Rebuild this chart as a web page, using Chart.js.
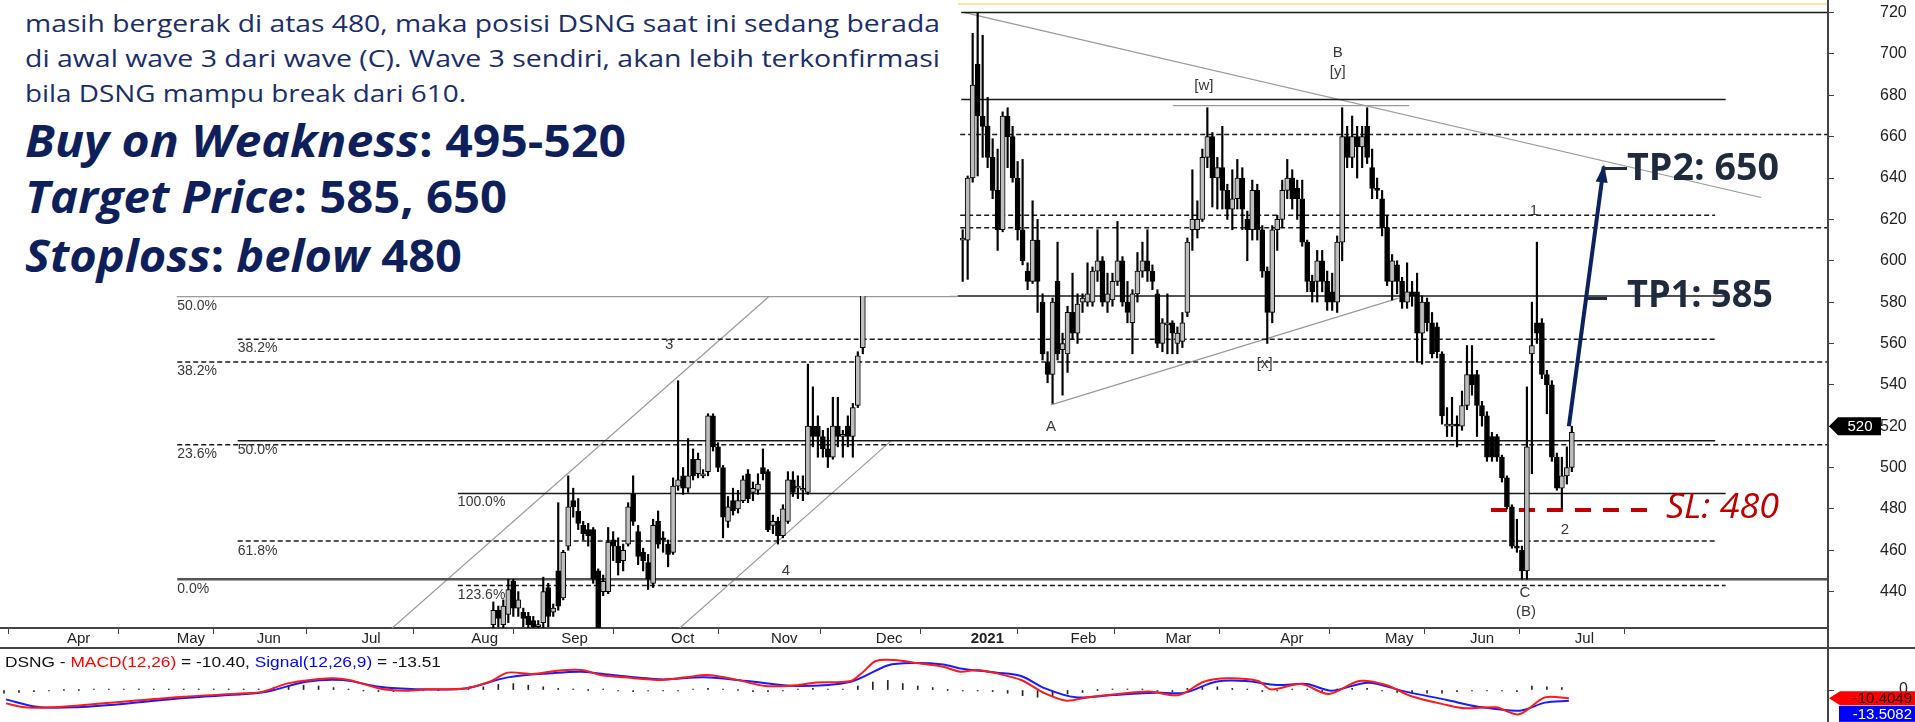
<!DOCTYPE html>
<html lang="id">
<head>
<meta charset="UTF-8">
<title>DSNG - Elliott Wave</title>
<script src="https://cdn.jsdelivr.net/npm/chart.js"></script>
<style>
    body {
        margin: 0;
        width: 1915px;
        height: 722px;
        overflow: hidden;
        position: relative;
        background: #fff;
        font-family: 'Liberation Sans', Arial, sans-serif;
    }
    #priceChart { position: absolute; left: 0; top: 0; }
    #macdChart { position: absolute; left: 0; top: 648px; }
    .note {
        position: absolute; left: 0; top: 0;
        width: 950px; height: 296px;
        background: #fff;
    }
    .fit {
        position: absolute;
        white-space: nowrap;
        transform-origin: 0 0;
        line-height: 1;
        font-family: 'Open Sans', sans-serif;
    }
    .para { font-size: 23.5px; color: #1a2d6a; }
    .big { font-size: 45px; font-weight: 700; color: #0e1f5b; }
    .tp { font-size: 38px; font-weight: 700; color: #1f2b3d; }
    .sl { font-size: 34px; font-style: italic; color: #c00000; }
    .macdTitle { font-family: 'Liberation Sans', Arial, sans-serif; font-size: 15px; color: #111; }
    .rule { position: absolute; }
</style>
</head>
<body>
<canvas id="priceChart" width="1915" height="648"></canvas>
<canvas id="macdChart" width="1915" height="74"></canvas>

<div class="note">
    <div class="fit para" style="left:24.5px;top:12.4px" data-w="915">masih bergerak di atas 480, maka posisi DSNG saat ini sedang berada</div>
    <div class="fit para" style="left:24.5px;top:47.4px" data-w="915">di awal wave 3 dari wave (C). Wave 3 sendiri, akan lebih terkonfirmasi</div>
    <div class="fit para" style="left:24.5px;top:82.4px" data-w="441">bila DSNG mampu break dari 610.</div>
    <div class="fit big" style="left:24.5px;top:116.7px" data-w="601"><i>Buy on Weakness</i>: 495-520</div>
    <div class="fit big" style="left:24.5px;top:173.3px" data-w="482"><i>Target Price</i>: 585, 650</div>
    <div class="fit big" style="left:24.5px;top:231.7px" data-w="437"><i>Stoploss</i>: <i>below</i> 480</div>
</div>

<div class="fit tp" style="left:1627px;top:146.3px" data-w="152">TP2: 650</div>
<div class="fit tp" style="left:1627px;top:273.3px" data-w="146">TP1: 585</div>
<div class="fit sl" style="left:1666px;top:487.5px" data-w="113">SL: 480</div>
<div class="fit macdTitle" style="left:5px;top:654px" data-w="436">DSNG - <span style="color:#f00">MACD(12,26)</span> = -10.40, <span style="color:#00f">Signal(12,26,9)</span> = -13.51</div>

<div class="rule" style="left:1604px;top:167px;width:23px;height:3px;background:#1f2b3d"></div>
<div class="rule" style="left:1587px;top:297px;width:20px;height:3px;background:#1f2b3d"></div>
<div class="rule" style="left:958px;top:3px;width:870px;height:2px;background:#fbe3a0"></div>
<div class="rule" style="left:0;top:647px;width:1915px;height:2px;background:#444"></div>
<div class="rule" style="left:1827px;top:0;width:2px;height:722px;background:#444"></div>

<script>
// x axis: trading-day index
const dayMin = -0.8;
const dayMax = 365.3;
const monthTicks = [12, 34, 50, 71, 93, 111, 133, 153, 174, 193, 213, 232, 255, 276, 293, 314];
const monthLabels = ['Apr', 'May', 'Jun', 'Jul', 'Aug', 'Sep', 'Oct', 'Nov', 'Dec', '2021', 'Feb', 'Mar', 'Apr', 'May', 'Jun', 'Jul'];
const priceTicks = [440, 460, 480, 500, 520, 540, 560, 580, 600, 620, 640, 660, 680, 700, 720];
const priceMin = 422.4;
const priceMax = 726.1;
const lastPrice = 520;

// [open, high, low, close], one row per trading day
const start2020 = 98;
const ohlc2020 = [
    [424,435,421,431],[431,433,423,427],[424,436,422,433],[429,446,425,441],[445,446,428,432],
    [432,440,428,436],[430,432,423,427],[428,430,421,424],[426,428,420,423],[423,426,420,424],
    [425,447,421,440],[442,444,423,428],[430,434,428,432],[450,483,431,433],[437,460,436,459],
    [462,496,460,481],[484,490,476,481],[479,485,470,473],[472,474,465,468],[470,473,462,467],
    [470,471,444,446],[450,451,420,422],[440,448,438,445],[440,471,439,464],[465,469,455,462],
    [462,466,448,454],[455,463,450,460],[463,483,462,481],[487,496,472,474],[469,472,453,457],
    [459,461,450,455],[454,458,441,446],[444,475,442,472],[474,479,461,463],[466,469,459,465],
    [463,465,452,458],[459,495,458,491],[491,542,489,494],[496,500,487,490],[490,514,488,496],
    [504,509,494,496],[497,507,495,504],[496,499,495,497],[498,526,496,525],[525,526,508,510],
    [510,512,498,500],[500,501,466,476],[474,486,471,481],[484,490,477,479],[480,489,478,484],
    [484,496,483,494],[497,499,483,485],[488,493,484,490],[489,497,487,492],[500,509,494,497],
    [498,499,469,470],[472,477,468,474],[474,476,463,467],[467,482,466,480],[474,498,473,494],
    [494,498,486,488],[490,496,485,491],[489,496,484,490],[488,550,487,520],[520,539,510,515],
    [520,525,505,515],[515,518,505,509],[509,519,500,505],[505,534,504,520],[520,534,510,515],
    [515,518,505,516],[520,525,510,515],[515,531,505,529],[530,556,529,554],[558,600,555,595]
];
const start2021 = 192;
const ohlc2021 = [
    [610,615,590,611],[610,641,591,640],[640,710,638,685],[695,720,641,670],[670,709,650,665],
    [665,679,645,650],[650,659,630,634],[634,654,605,615],[615,672,614,670],[670,674,645,660],
    [660,665,638,640],[640,648,610,615],[615,649,598,600],[595,599,586,590],[590,629,589,610],
    [610,620,575,590],[580,584,552,555],[551,556,541,545],[545,582,531,580],[590,609,552,555],
    [557,565,535,560],[555,578,546,575],[575,594,562,565],[565,584,560,579],[580,584,575,582],
    [580,599,578,584],[580,597,578,595],[595,615,590,600],[600,602,578,580],[580,594,575,584],
    [581,594,578,590],[590,619,588,600],[600,602,578,580],[580,590,570,575],[570,586,555,584],
    [584,604,580,595],[595,609,592,600],[600,615,590,595],[595,598,586,590],[584,586,558,560],
    [560,572,556,570],[569,584,555,570],[570,571,555,565],[560,568,555,565],[561,575,558,570],
    [575,611,573,609],[615,644,605,620],[615,629,611,620],[620,654,619,650],[650,674,645,660],
    [660,662,626,640],[640,650,625,645],[645,665,625,634],[634,637,620,625],[625,644,615,630],
    [630,649,625,640],[640,645,615,625],[620,624,600,615],[615,639,610,634],[634,637,610,615],
    [615,617,592,595],[595,597,560,575],[575,617,570,615],[615,622,605,620],[620,639,616,634],
    [634,649,630,640],[640,644,625,630],[635,639,620,630],[630,639,607,609],[609,610,585,590],
    [590,593,580,585],[590,605,580,600],[600,605,585,590],[590,595,576,580],[585,594,576,580],
    [580,612,575,609],[609,674,600,660],[660,665,645,650],[650,670,645,660],[660,665,640,655],
    [655,665,645,660],[665,674,647,650],[645,654,630,635],[635,640,630,634],[630,634,612,616],
    [616,622,588,590],[590,603,581,600],[598,600,584,590],[590,592,577,580],[580,599,577,585],
    [585,590,578,583],[585,594,551,565],[565,583,550,580],[580,582,566,570],[570,575,553,555],
    [568,570,553,556],[555,556,521,525],[520,529,515,521],[520,534,515,521],[521,525,510,520],
    [520,537,518,530],[530,559,528,545],[545,559,535,540],[545,547,515,530],[530,532,520,525],
    [525,527,503,505],[515,517,503,505],[515,516,503,505],[505,506,493,495],[495,496,480,481],
    [481,482,461,462],[462,475,459,461],[460,462,446,450],[450,539,446,510],[555,580,497,559],
    [570,609,560,565],[570,572,543,545],[545,547,526,540],[540,542,503,505],[505,507,489,490],
    [490,505,480,496],[496,510,492,500],[500,520,498,517]
];

// horizontal levels: [price, fromDay, toDay]
const solidLevels = [[720, 191.7, 365.3], [678, 191.7, 344.8], [583, 191, 344.8], [513, 46.8, 342.7], [487.5, 90.9, 344.8]];
const greyLevels = [[582.7, 34.6, 191]];
const baseLevels = [[446, 34.7, 365.3]];
const dashedLevels = [[661, 191.5, 365.3], [622, 191.5, 342.7], [616, 191.5, 365.3], [562, 46.8, 342.7],
                      [551, 34.7, 365.3], [511, 34.7, 365.3], [464.5, 46.8, 342.7], [443, 90.9, 344.8]];
// trend lines: [[day, price], [day, price]]
const trendLines = [
    [[192.4, 720], [351.9, 630.6]],
    [[234.1, 675], [281.4, 675]],
    [[209.7, 530.3], [279.3, 581.9]],
    [[77.7, 422.3], [153.1, 582.5]],
    [[135.3, 422.3], [177.7, 513]]
];
const stopLoss = [[297.8, 479.5], [329.1, 479.5]];
const targetArrow = [[313.4, 520], [320.4, 645.6]];

// [text, day, price]
const waveLabels = [['B', 267.1, 700.4], ['[y]', 267.1, 691.5], ['[w]', 240.3, 684.6], ['1', 306.4, 624.3],
                    ['A', 209.7, 519.8], ['[x]', 252.5, 550.1], ['2', 312.6, 469.7], ['C', 304.6, 439.3],
                    ['(B)', 304.8, 430.4], ['3', 133.2, 559.3], ['4', 156.6, 450]];
const fibLabels = [['50.0%', 34.7, 578.2], ['38.2%', 46.8, 557.7], ['38.2%', 34.7, 546.4], ['23.6%', 34.7, 506.6],
                   ['50.0%', 46.8, 508.5], ['100.0%', 90.9, 483.2], ['61.8%', 46.8, 459.8], ['0.0%', 34.7, 441.3],
                   ['123.6%', 90.9, 438.4]];

// MACD panel: [day, value]
const macdLine = [[0.4,-16.7],[4.1,-21.7],[9,-22],[13.9,-20],[23.7,-14.6],[36,-8.3],[48.3,-4.2],[51.9,-2],
    [56.9,8.3],[65.4,14.6],[69.1,12.5],[75.2,2],[80.1,-0.8],[85.1,0.8],[92.4,2],[97.3,10.4],[100.9,21.7],
    [105.9,20],[110.8,24.2],[115.7,25],[119.4,18.8],[124.3,15.8],[131.6,12.5],[136.6,15.8],[140.8,18.8],
    [146.4,13.3],[152.5,5],[158.6,6],[162.3,9.2],[169.6,11.3],[172.1,22.9],[174.6,36.3],[178.3,37.5],
    [183.2,33.3],[188.1,29],[191.5,22.9],[195,25],[198.8,20.8],[203.7,12.5],[208.5,-4.2],[212.8,-13.3],
    [217.1,-9.2],[223.1,-5],[229.3,-2],[235.3,-6.3],[240.3,10.4],[245.1,14.6],[251.2,11.3],[253.7,0.8],
    [259.8,7.5],[265.3,-5],[271.4,11.3],[276.8,6.3],[281.7,-7.5],[289,-18.8],[292.7,-22.9],[298.8,-21.7],
    [303.4,-30.4],[308.6,-9.2],[313.4,-10.4]];
const signalLine = [[0.4,-11.7],[6.5,-21],[13.9,-21.7],[23.7,-17.5],[36,-10],[48.3,-5],[53.1,-1.5],
    [60.5,10.4],[67.9,12.5],[75.2,4],[82.5,1],[92.4,2],[100.9,15.8],[109.6,21],[115.7,22.9],[121.8,18.8],
    [131.6,13.3],[140.2,15.8],[148.8,11.3],[158.6,5],[169.6,10.4],[177.1,31],[181.9,33.8],[188.1,32],
    [191.5,27],[198.8,21.7],[203.7,17.5],[208.5,2],[214.6,-9.2],[221.9,-6.3],[230.5,-3.3],[236.5,-3.3],
    [242.7,10.4],[248.7,11.3],[254.9,6.3],[260.9,7.5],[265.9,-0.8],[273.2,9.2],[280.5,-1.7],[289,-12.5],
    [295.2,-20.8],[303.6,-25.8],[308.6,-15.8],[313.4,-13.5]];
// histogram, one bar every 3 trading days from day 0
const histStep = 3;
const histValues = [-4,-3,-2,-1,0,0,1,1,1,1,1,1,1,1,1,1,1,1,3,5,6,5,3,1,-1,-2,-2,-1,0,0,1,2,4,7,8,6,4,2,1,0,
    1,-1,-2,-1,-1,-1,1,2,1,0,-2,-2,-1,1,2,1,1,5,10,12,8,5,3,0,-1,-1,-2,-4,-7,-9,-8,-5,-3,0,1,1,1,-1,-2,2,
    4,4,2,1,-2,-1,1,1,-2,1,2,2,-1,-3,-4,-4,-4,-2,-1,-1,-1,-2,5,4,3];
const macdMin = -40;
const macdMax = 52.5;
const macdLast = -10.4049;
const signalLast = -13.5082;

Chart.defaults.font.family = "'Liberation Sans', Arial, sans-serif";
Chart.defaults.color = '#222';

// candles
const candles = [];
ohlc2020.forEach((r, i) => candles.push({ x: start2020 + i, o: r[0], h: r[1], l: r[2], c: r[3] }));
ohlc2021.forEach((r, i) => candles.push({ x: start2021 + i, o: r[0], h: r[1], l: r[2], c: r[3] }));

function seg(points, color, width, dash) {
    return {
        type: 'line',
        data: points.map(p => ({ x: p[0], y: p[1] })),
        borderColor: color,
        borderWidth: width,
        borderDash: dash || [],
        pointRadius: 0,
        fill: false,
        tension: 0,
        order: 5
    };
}

// keep the plot area edge to edge: no extra padding from tick labels
function noPad(s) {
    s.paddingTop = 0;
    s.paddingBottom = 0;
    s.paddingLeft = 0;
    s.paddingRight = 0;
}

const datasets = [
    {
        type: 'bar',
        data: candles.map(c => ({ x: c.x, y: [c.o, c.c] })),
        backgroundColor: candles.map(c => c.c >= c.o ? '#bdbdbd' : '#000'),
        borderColor: '#000',
        borderWidth: 1,
        borderSkipped: false,
        grouped: false,
        barPercentage: 1,
        categoryPercentage: 1,
        maxBarThickness: 5,
        minBarLength: 1,
        order: 1
    },
    {
        type: 'bar',
        data: candles.map(c => ({ x: c.x, y: [c.l, c.h] })),
        backgroundColor: '#000',
        borderWidth: 0,
        grouped: false,
        barPercentage: 1,
        categoryPercentage: 1,
        maxBarThickness: 1.5,
        order: 2
    }
];
solidLevels.forEach(l => datasets.push(seg([[l[1], l[0]], [l[2], l[0]]], '#1a1a1a', 1.5)));
greyLevels.forEach(l => datasets.push(seg([[l[1], l[0]], [l[2], l[0]]], '#9a9a9a', 1.5)));
baseLevels.forEach(l => datasets.push(seg([[l[1], l[0]], [l[2], l[0]]], '#555', 2.5)));
dashedLevels.forEach(l => datasets.push(seg([[l[1], l[0]], [l[2], l[0]]], '#1a1a1a', 1.5, [5, 3])));
trendLines.forEach(t => datasets.push(seg(t, '#9a9a9a', 1.2)));
datasets.push(seg(stopLoss, '#c00000', 4, [16, 12]));
const arrowSet = seg(targetArrow, '#0c2260', 4);
arrowSet.order = 0;
datasets.push(arrowSet);

const overlayPlugin = {
    id: 'overlay',
    afterDatasetsDraw(chart) {
        const { ctx, scales: { x, y } } = chart;
        ctx.save();
        ctx.fillStyle = '#383838';
        ctx.textBaseline = 'middle';
        ctx.textAlign = 'center';
        ctx.font = "15px 'Liberation Sans', Arial, sans-serif";
        waveLabels.forEach(([t, d, v]) => ctx.fillText(t, x.getPixelForValue(d), y.getPixelForValue(v)));
        ctx.textAlign = 'left';
        ctx.font = "14px 'Liberation Sans', Arial, sans-serif";
        fibLabels.forEach(([t, d, v]) => ctx.fillText(t, x.getPixelForValue(d), y.getPixelForValue(v)));

        // arrow head on the target line
        const x0 = x.getPixelForValue(targetArrow[0][0]), y0 = y.getPixelForValue(targetArrow[0][1]);
        const x1 = x.getPixelForValue(targetArrow[1][0]), y1 = y.getPixelForValue(targetArrow[1][1]);
        const len = Math.hypot(x1 - x0, y1 - y0);
        const ux = (x1 - x0) / len, uy = (y1 - y0) / len;
        ctx.fillStyle = '#0c2260';
        ctx.beginPath();
        ctx.moveTo(x1 + ux * 2, y1 + uy * 2);
        ctx.lineTo(x1 - ux * 16 - uy * 6, y1 - uy * 16 + ux * 6);
        ctx.lineTo(x1 - ux * 16 + uy * 6, y1 - uy * 16 - ux * 6);
        ctx.closePath();
        ctx.fill();

        // last price tag
        const ty = y.getPixelForValue(lastPrice);
        const ax = chart.chartArea.right + 1;
        ctx.fillStyle = '#000';
        ctx.beginPath();
        ctx.moveTo(ax, ty);
        ctx.lineTo(ax + 9, ty - 9);
        ctx.lineTo(ax + 52, ty - 9);
        ctx.lineTo(ax + 52, ty + 9);
        ctx.lineTo(ax + 9, ty + 9);
        ctx.closePath();
        ctx.fill();
        ctx.fillStyle = '#fff';
        ctx.textAlign = 'center';
        ctx.font = "15px 'Liberation Sans', Arial, sans-serif";
        ctx.fillText(String(lastPrice), ax + 31, ty + 1);
        ctx.restore();
    }
};

new Chart(document.getElementById('priceChart'), {
    type: 'bar',
    data: { datasets: datasets },
    options: {
        responsive: false,
        animation: false,
        layout: { padding: 0 },
        plugins: { legend: { display: false }, tooltip: { enabled: false } },
        scales: {
            x: {
                type: 'linear',
                min: dayMin,
                max: dayMax,
                offset: false,
                afterBuildTicks: s => { s.ticks = monthTicks.map(v => ({ value: v })); },
                afterFit: s => { s.height = 20; noPad(s); },
                ticks: {
                    autoSkip: false,
                    maxRotation: 0,
                    align: 'start',
                    labelOffset: 3,
                    padding: -4,
                    color: '#222',
                    font: ctx => ({ size: 15, weight: monthLabels[ctx.index] === '2021' ? 'bold' : 'normal' }),
                    callback: (v, i) => monthLabels[i]
                },
                grid: { drawOnChartArea: false, drawTicks: true, tickLength: 6, color: '#444' },
                border: { display: true, color: '#444', width: 2 }
            },
            y: {
                type: 'linear',
                position: 'right',
                min: priceMin,
                max: priceMax,
                afterBuildTicks: s => { s.ticks = priceTicks.map(v => ({ value: v })); },
                afterFit: s => { s.width = 87; noPad(s); },
                ticks: { padding: 46, color: '#222', font: { size: 16 } },
                grid: { drawOnChartArea: false, drawTicks: true, tickLength: 6, color: '#444' },
                border: { display: true, color: '#444', width: 2 }
            }
        }
    },
    plugins: [overlayPlugin]
});

// MACD panel
const tagPlugin = {
    id: 'tags',
    afterDraw(chart) {
        const { ctx, scales: { y } } = chart;
        const ax = chart.chartArea.right + 1;
        const ry = y.getPixelForValue(macdLast);
        ctx.save();
        ctx.fillStyle = '#ff0000';
        ctx.beginPath();
        ctx.moveTo(ax, ry);
        ctx.lineTo(ax + 11, ry - 7);
        ctx.lineTo(1915, ry - 7);
        ctx.lineTo(1915, ry + 7);
        ctx.lineTo(ax + 11, ry + 7);
        ctx.closePath();
        ctx.fill();
        ctx.fillStyle = '#0000ff';
        ctx.fillRect(ax + 10, ry + 7.5, 1915 - ax - 10, 16);
        ctx.font = "15px 'Liberation Sans', Arial, sans-serif";
        ctx.textAlign = 'right';
        ctx.textBaseline = 'middle';
        ctx.fillStyle = '#111';
        ctx.fillText(macdLast.toFixed(4), 1912, ry + 1);
        ctx.fillStyle = '#fff';
        ctx.fillText(signalLast.toFixed(4), 1912, ry + 16.5);
        ctx.restore();
    }
};

new Chart(document.getElementById('macdChart'), {
    type: 'bar',
    data: {
        datasets: [
            {
                type: 'line',
                data: macdLine.map(p => ({ x: p[0], y: p[1] })),
                borderColor: '#ff1a1a',
                borderWidth: 2,
                pointRadius: 0,
                tension: 0.3,
                order: 1
            },
            {
                type: 'line',
                data: signalLine.map(p => ({ x: p[0], y: p[1] })),
                borderColor: '#1a1aff',
                borderWidth: 2,
                pointRadius: 0,
                tension: 0.3,
                order: 2
            },
            {
                type: 'bar',
                data: histValues.map((v, i) => ({ x: i * histStep, y: v })),
                backgroundColor: '#222',
                grouped: false,
                barPercentage: 1,
                categoryPercentage: 1,
                maxBarThickness: 1,
                minBarLength: 1,
                order: 3
            }
        ]
    },
    options: {
        responsive: false,
        animation: false,
        layout: { padding: 0 },
        plugins: { legend: { display: false }, tooltip: { enabled: false } },
        scales: {
            x: { type: 'linear', min: dayMin, max: dayMax, offset: false, display: false },
            y: {
                type: 'linear',
                position: 'right',
                min: macdMin,
                max: macdMax,
                afterBuildTicks: s => { s.ticks = [{ value: 0 }]; },
                afterFit: s => { s.width = 87; noPad(s); },
                ticks: { padding: 65, color: '#222', font: { size: 16 }, callback: v => String(v) },
                grid: { drawOnChartArea: false, drawTicks: true, tickLength: 6, color: '#444' },
                border: { display: true, color: '#444', width: 2 }
            }
        }
    },
    plugins: [tagPlugin]
});

// squeeze the overlay texts to the widths they take in the picture
function fitAll() {
    document.querySelectorAll('.fit').forEach(el => {
        el.style.transform = 'none';
        const w = el.getBoundingClientRect().width;
        const target = parseFloat(el.dataset.w);
        if (w > 0) el.style.transform = 'scaleX(' + (target / w) + ')';
    });
}
fitAll();
if (document.fonts) document.fonts.ready.then(fitAll);
</script>
</body>
</html>
